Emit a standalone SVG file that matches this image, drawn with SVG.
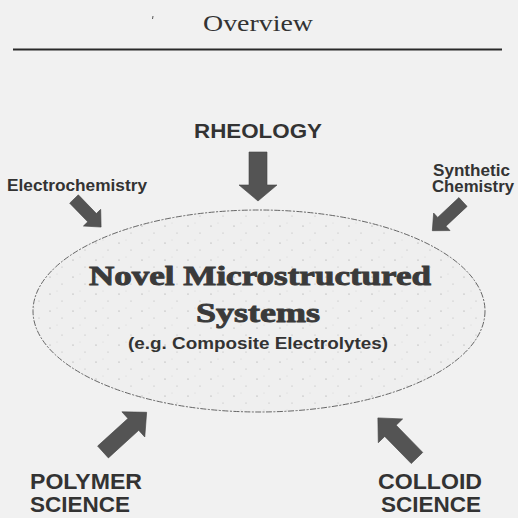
<svg xmlns="http://www.w3.org/2000/svg" width="518" height="518" viewBox="0 0 518 518">
  <style>
    .lbl { font-family: "Liberation Sans", Arial, sans-serif; font-weight: bold; fill: #333; }
    .big { font-family: "Liberation Serif", "Times New Roman", serif; font-weight: bold; fill: #3a3a3a; stroke: #3a3a3a; stroke-width: 0.9; }
    .arrow { fill: #545454; stroke: #444; stroke-width: 0.6; }
  </style>
  <defs>
    <pattern id="speck" width="23" height="17" patternUnits="userSpaceOnUse">
      <rect width="23" height="17" fill="#efefef"/>
      <circle cx="4" cy="5" r="0.6" fill="#999"/>
      <circle cx="16" cy="12" r="0.5" fill="#aaa"/>
      <circle cx="11" cy="2" r="0.4" fill="#bbb"/>
    </pattern>
  </defs>
  <rect width="518" height="518" fill="#f1f1f1"/>

  <g id="title">
    <text x="258" y="31" text-anchor="middle" font-family="Liberation Serif, 'Times New Roman', serif" font-size="24" fill="#333" textLength="110" lengthAdjust="spacingAndGlyphs">Overview</text>
    <line x1="13" y1="49.5" x2="502" y2="49.5" stroke="#2a2a2a" stroke-width="2"/>
    <line x1="153" y1="16" x2="152.5" y2="19" stroke="#555" stroke-width="1"/>
  </g>

  <g id="center">
    <ellipse cx="259" cy="311" rx="226" ry="101" fill="url(#speck)" stroke="#666" stroke-width="1" stroke-dasharray="6 1.5 2 1.5"/>
    <text class="big" x="260" y="285" text-anchor="middle" font-size="27" textLength="342" lengthAdjust="spacingAndGlyphs">Novel Microstructured</text>
    <text class="big" x="258" y="322" text-anchor="middle" font-size="27" textLength="124" lengthAdjust="spacingAndGlyphs">Systems</text>
    <text class="lbl" x="258" y="349" text-anchor="middle" font-size="17" textLength="260" lengthAdjust="spacingAndGlyphs">(e.g. Composite Electrolytes)</text>
  </g>

  <g id="rheology">
    <text class="lbl" x="258" y="138" text-anchor="middle" font-size="20" textLength="128" lengthAdjust="spacingAndGlyphs">RHEOLOGY</text>
  </g>
  <g id="electrochemistry">
    <text class="lbl" x="7" y="191" font-size="16" textLength="140" lengthAdjust="spacingAndGlyphs">Electrochemistry</text>
  </g>
  <g id="synthetic-chemistry">
    <text class="lbl" x="433" y="176" font-size="16" textLength="77" lengthAdjust="spacingAndGlyphs">Synthetic</text>
    <text class="lbl" x="432" y="192" font-size="16" textLength="82" lengthAdjust="spacingAndGlyphs">Chemistry</text>
  </g>
  <g id="polymer-science">
    <text class="lbl" x="30" y="489" font-size="22" textLength="112" lengthAdjust="spacingAndGlyphs">POLYMER</text>
    <text class="lbl" x="30" y="512" font-size="22" textLength="100" lengthAdjust="spacingAndGlyphs">SCIENCE</text>
  </g>
  <g id="colloid-science">
    <text class="lbl" x="482" y="489" text-anchor="end" font-size="22" textLength="104" lengthAdjust="spacingAndGlyphs">COLLOID</text>
    <text class="lbl" x="481" y="512" text-anchor="end" font-size="22" textLength="100" lengthAdjust="spacingAndGlyphs">SCIENCE</text>
  </g>

  <g id="connectors">
    <path class="arrow" transform="translate(258,152) rotate(90)" d="M0,-9 L33,-9 L33,-19 L49,0 L33,19 L33,9 L0,9 Z"/>
    <path class="arrow" transform="translate(74,199) rotate(46)" d="M0,-6 L26,-6 L26,-12 L39,0 L26,12 L26,6 L0,6 Z"/>
    <path class="arrow" transform="translate(463,202) rotate(136.9)" d="M0,-6 L29,-6 L29,-12 L42,0 L29,12 L29,6 L0,6 Z"/>
    <path class="arrow" transform="translate(103,452) rotate(-42.3)" d="M0,-8 L41,-8 L41,-17 L59,0 L41,17 L41,8 L0,8 Z"/>
    <path class="arrow" transform="translate(417,458) rotate(-134.3)" d="M0,-8 L38,-8 L38,-17 L56,0 L38,17 L38,8 L0,8 Z"/>
  </g>
</svg>
